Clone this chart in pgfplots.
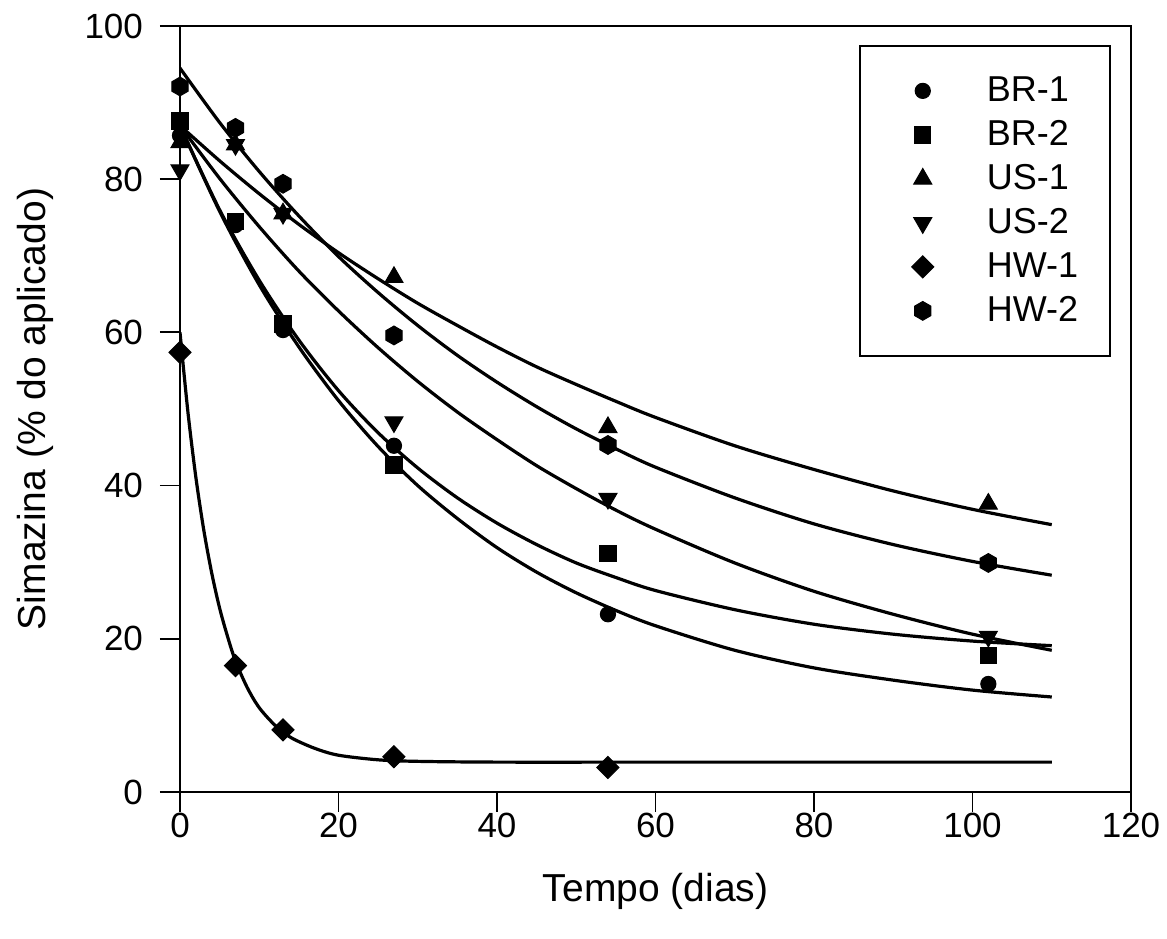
\documentclass[border=0pt]{standalone}
\usepackage{fontspec}
\setmainfont{Liberation Sans}
\usepackage{pgfplots}
\pgfplotsset{compat=1.18}

% filled hexagon mark (pointy top)
\pgfdeclareplotmark{hexagon*}{%
  \pgfpathmoveto{\pgfpointpolar{90}{\pgfplotmarksize}}%
  \pgfpathlineto{\pgfpointpolar{150}{\pgfplotmarksize}}%
  \pgfpathlineto{\pgfpointpolar{210}{\pgfplotmarksize}}%
  \pgfpathlineto{\pgfpointpolar{270}{\pgfplotmarksize}}%
  \pgfpathlineto{\pgfpointpolar{330}{\pgfplotmarksize}}%
  \pgfpathlineto{\pgfpointpolar{30}{\pgfplotmarksize}}%
  \pgfpathclose
  \pgfusepathqfillstroke}

\begin{document}
\begin{tikzpicture}
\begin{axis}[
    width=475.5pt, height=383pt, scale only axis,
    xmin=0, xmax=120, ymin=0, ymax=100,
    xtick={0,20,...,120}, ytick={0,20,...,100},
    tick align=outside, xtick pos=left, ytick pos=left,
    major tick length=10pt,
    axis line style={line width=0.9pt},
    every tick/.style={black, line width=0.9pt},
    tick label style={font=\fontsize{17.5}{20}\selectfont},
    /pgf/number format/assume math mode=true,
    yticklabel style={xshift=-5pt},
    xticklabel style={yshift=3pt},
    xlabel={Tempo (dias)},
    ylabel={Simazina (\% do aplicado)},
    every axis x label/.style={at={(axis description cs:0.5,-0.1436)}, anchor=base,
        font=\fontsize{19.5}{22}\selectfont},
    every axis y label/.style={at={(axis description cs:-0.141,0.5)}, rotate=90, anchor=base,
        font=\fontsize{19.5}{22}\selectfont},
    clip mode=individual,
    legend cell align=left,
    legend image code/.code={%
        \path[draw=none] (-15.5pt,-11pt) rectangle (32pt,11pt);
        \draw[#1] plot coordinates {(0pt,0pt)};},
    legend style={at={(0.714,0.975)}, anchor=north west, draw=black, line width=0.75pt,
        font=\fontsize{18}{20}\selectfont, inner xsep=16pt, inner ysep=11.5pt,
        row sep=0pt, nodes={inner sep=0pt, draw=none}},
    curve/.style={black, line width=1.6pt, smooth, no marks, forget plot},
    pts/.style={black, only marks, line width=0.5pt},
]

% fitted curves
% BR-1
\addplot[curve] coordinates {(0,87.0)(5,75.8)(10,66.2)(15,58.1)(20,51.1)(25,45.1)(30,40.0)(35,35.7)(40,31.9)(45,28.7)(50,26.0)(55,23.7)(60,21.7)(70,18.5)(80,16.2)(90,14.6)(100,13.3)(110,12.4)};
% BR-2
\addplot[curve] coordinates {(0,87.0)(5,76.0)(10,66.8)(15,59.0)(20,52.4)(25,46.9)(30,42.3)(35,38.4)(40,35.1)(45,32.3)(50,29.9)(55,28.0)(60,26.3)(70,23.8)(80,21.9)(90,20.6)(100,19.7)(110,19.1)};
% US-1
\addplot[curve] coordinates {(0,87.0)(5,82.4)(10,78.1)(15,74.1)(20,70.4)(25,67.0)(30,63.8)(35,60.9)(40,58.1)(45,55.5)(50,53.2)(55,51.0)(60,48.9)(70,45.2)(80,42.1)(90,39.3)(100,36.9)(110,34.9)};
% US-2
\addplot[curve] coordinates {(0,87.0)(5,80.1)(10,73.8)(15,68.0)(20,62.8)(25,58.0)(30,53.6)(35,49.6)(40,46.0)(45,42.6)(50,39.6)(55,36.8)(60,34.3)(70,29.9)(80,26.2)(90,23.2)(100,20.6)(110,18.5)};
% HW-1
\addplot[curve] coordinates {(0,60.0)(1,49.6)(2,41.1)(3,34.2)(4,28.6)(5,24.0)(6,20.3)(7,17.1)(8.5,13.6)(10,11.0)(12,8.7)(14,7.1)(17,5.7)(20,4.8)(25,4.2)(30,4.0)(40,3.9)(60,3.9)(80,3.9)(110,3.9)};
% HW-2
\addplot[curve] coordinates {(0,94.5)(5,87.4)(10,81.0)(15,75.2)(20,69.9)(25,65.2)(30,60.9)(35,57.0)(40,53.5)(45,50.3)(50,47.4)(55,44.8)(60,42.4)(70,38.4)(80,35.0)(90,32.3)(100,30.1)(110,28.3)};

% measured points
\addplot[pts, mark=*, mark size=3.8pt] coordinates {(0,85.7)(7,74.0)(13,60.3)(27,45.2)(54,23.2)(102,14.1)};
\addlegendentry{BR-1}
\addplot[pts, mark=square*, mark size=4.1pt] coordinates {(0,87.6)(7,74.5)(13,61.1)(27,42.7)(54,31.1)(102,17.8)};
\addlegendentry{BR-2}
\addplot[pts, mark=triangle*, mark size=5.2pt] coordinates {(0,84.8)(7,84.5)(13,75.5)(27,67.2)(54,47.6)(102,37.6)};
\addlegendentry{US-1}
\addplot[pts, mark=triangle*, mark size=5.2pt, mark options={rotate=180}] coordinates {(0,81.2)(7,84.5)(13,75.5)(27,48.3)(54,38.3)(102,20.3)};
\addlegendentry{US-2}
\addplot[pts, mark=square*, mark size=3.9pt, mark options={rotate=45}] coordinates {(0,57.4)(7,16.5)(13,8.1)(27,4.6)(54,3.2)};
\addlegendentry{HW-1}
\addplot[pts, mark=hexagon*, mark size=4.7pt] coordinates {(0,92.1)(7,86.7)(13,79.4)(27,59.6)(54,45.3)(102,29.9)};
\addlegendentry{HW-2}

\coordinate (ll) at (rel axis cs:0,0);
\coordinate (ur) at (rel axis cs:1,1);
\end{axis}
\path ([shift={(-90pt,-73.5pt)}]ll) rectangle ([shift={(18pt,13pt)}]ur);
\end{tikzpicture}
\end{document}
